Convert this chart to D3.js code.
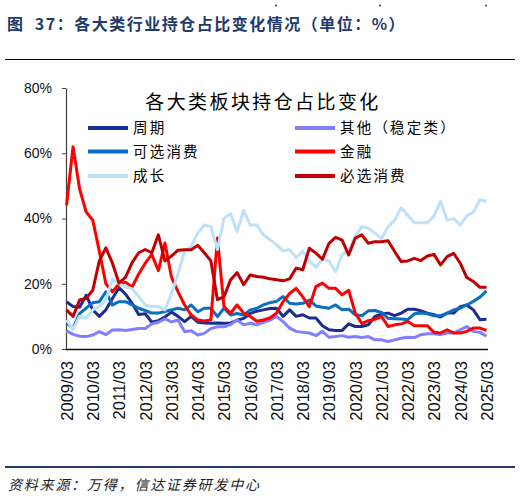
<!DOCTYPE html>
<html>
<head>
<meta charset="utf-8">
<script src="https://cdn.jsdelivr.net/npm/d3@7"></script>
<style>
  html, body { margin: 0; padding: 0; background: #fff; }
  svg { display: block; }
</style>
</head>
<body>
<svg id="chart" width="520" height="498"></svg>
<script>
// ---------------- data ----------------
const categories = [
  "2009/03","2009/06","2009/09","2009/12","2010/03","2010/06","2010/09","2010/12",
  "2011/03","2011/06","2011/09","2011/12","2012/03","2012/06","2012/09","2012/12",
  "2013/03","2013/06","2013/09","2013/12","2014/03","2014/06","2014/09","2014/12",
  "2015/03","2015/06","2015/09","2015/12","2016/03","2016/06","2016/09","2016/12",
  "2017/03","2017/06","2017/09","2017/12","2018/03","2018/06","2018/09","2018/12",
  "2019/03","2019/06","2019/09","2019/12","2020/03","2020/06","2020/09","2020/12",
  "2021/03","2021/06","2021/09","2021/12","2022/03","2022/06","2022/09","2022/12",
  "2023/03","2023/06","2023/09","2023/12","2024/03","2024/06","2024/09","2024/12",
  "2025/03"
];
const tickLabels = ["2009/03","2010/03","2011/03","2012/03","2013/03","2014/03","2015/03",
  "2016/03","2017/03","2018/03","2019/03","2020/03","2021/03","2022/03","2023/03","2024/03","2025/03"];
const yTicks = [0, 20, 40, 60, 80];

// 周期
const cyclical = [14.5,13,12.8,16.5,12,10,12,15.5,18.8,16.8,14,10.6,10.8,8.2,8.7,9.8,
  11.3,10,8.4,10,8.2,8,7.9,8,7.9,8,8.8,9.4,10.9,11.6,12,12.4,
  12.5,10,12,10,10.5,9.5,9.5,7.1,5.9,5.7,5.7,7.7,6.9,6.9,7.4,10,
  10.7,11,10.2,11,12.2,12.2,11.7,11,10.5,9.8,11,11,13,13.5,12,9,9.1];
// 其他（稳定类）
const stable = [5.6,4.5,3.9,3.8,4.3,5.3,4.4,5.8,5.9,5.7,6,6.3,6.3,7.7,8.2,9.2,
  8.3,8.9,5.3,5.6,4.3,4.8,6.3,6.8,6.8,7.5,8.9,7.4,7.9,7.4,8.2,8.8,
  10,8.4,6.4,5.4,5.1,4.9,4.1,5.4,3.6,3.8,4.1,3.6,3.8,3.5,3.8,2.8,
  2.8,2.3,2.8,3.3,3.6,3.5,4.4,4.7,4.7,4.4,4.9,4.9,5.9,6.9,5.4,5.1,3.9];
// 可选消费
const discretionary = [8,6.3,10.9,12.5,14.2,14.5,17.5,13.5,14.5,14.5,13.5,12.5,11.8,11,11,11.5,
  12,12.5,12,13.5,11.4,12.5,12.5,9.9,12.5,10.4,10.9,10.4,12,12.5,13.5,14.2,
  14.6,16.1,14,13.8,14,15,13.2,12.8,12.5,13.5,12,12.2,10.5,10.2,11.7,11.8,
  11.2,9.4,9.3,9.2,9,10.8,11,10.8,10.2,10.2,11,12,12.5,13.5,14.6,15.9,17.8];
// 金融
const finance = [44,62,49,42,39.5,30,20,17.5,20,20.5,19,23,26.3,29,24,32.5,
  22,17.5,13.5,10.4,8.9,8.6,8.9,34,13,11,13.5,11,10,8.5,8.9,9.5,
  11,14.5,17,18.6,16,13,19.1,20.2,18.6,18.6,16.6,18,11,7.8,8.7,9.1,
  10,6.9,7.4,7.7,8.4,7.1,7.1,7.1,5.1,4.9,5.9,4.9,4.9,5.4,6.4,6.4,5.7];
// 成长
const growth = [8.9,6,10,9.5,12,13,15,21.5,20,19,18.5,16,13.5,13,13,12,
  17,23,30,31.5,35.5,38,37.5,30.5,40,41.5,36,42.5,38,38,35,33.5,
  32,30,30.5,28,30,27,25,27.5,27,23.7,28.8,30.4,34.5,37.5,37,35.5,
  33.8,37.5,39.5,43.3,41,38.7,38.7,38.7,40.8,45.3,39.5,40,38,40.8,42,45.8,45.2];
// 必选消费
const staples = [12,10,15,15.5,18,27,31,26.3,20.2,22,26.5,29.5,30.5,29.5,35,27,
  28.5,30.3,30.4,30.4,31.8,29.5,27,15.1,16,21.2,23.4,19.7,22.7,22.2,22,21.5,
  21.2,20.9,21.5,24.8,24.3,30.9,29.4,27.5,32.4,34.2,33.4,28.8,34,35,32.4,32.9,
  32.9,33.2,29.9,26.8,27,27.8,27.1,28.5,29,25.8,28.3,29.3,26.3,21.9,20.7,18.9,18.9];

const seriesNames = ["周期","其他（稳定类）","可选消费","金融","成长","必选消费"];
const seriesValues = [cyclical, stable, discretionary, finance, growth, staples];
const seriesColors = ["#1b2d8f","#8080ff","#0a6fc0","#ff0000","#bfe0fb","#c00000"];

// ---------------- drawing ----------------
const svg = d3.select("#chart");
const cjk = "'Noto Sans CJK SC','Noto Sans',sans-serif";
const latin = "'Liberation Sans',Arial,sans-serif";

// report header
svg.append("text")
  .attr("x", 7).attr("y", 30)
  .attr("font-family", cjk).attr("font-weight", 700).attr("font-size", 16)
  .attr("letter-spacing", 1.5)
  .attr("fill", "#1f3a6b")
  .attr("xml:space", "preserve")
  .text("图  37：各大类行业持仓占比变化情况（单位：%）");
svg.append("line").attr("x1", 5).attr("x2", 515).attr("y1", 59.5).attr("y2", 59.5)
  .attr("stroke", "#000").attr("stroke-width", 1);
[276, 380, 486].forEach(px => svg.append("circle").attr("cx", px).attr("cy", 5.5).attr("r", 0.9).attr("fill", "#333"));

// scales
const x = d3.scalePoint().domain(categories).range([66.5, 486.5]);
const y = d3.scaleLinear().domain([0, 80]).range([349, 88]);

// y axis
const yAxis = svg.append("g").attr("transform", "translate(66,0)")
  .call(d3.axisLeft(y).tickValues(yTicks).tickSize(4).tickSizeOuter(0).tickPadding(10)
    .tickFormat(d => d + "%"));
yAxis.select(".domain").attr("stroke", "#404040").attr("stroke-width", 1.2);
yAxis.selectAll(".tick line").attr("stroke", "#404040");
yAxis.selectAll("text").attr("font-family", latin).attr("font-size", 14).attr("fill", "#111");

// x axis
const xAxis = svg.append("g").attr("transform", "translate(0,349)")
  .call(d3.axisBottom(x).tickValues(tickLabels).tickSize(0).tickSizeOuter(0));
xAxis.select(".domain").attr("stroke", "#111").attr("stroke-width", 1.3)
  .attr("d", "M65.5,0.5H488");
xAxis.selectAll("text")
  .attr("font-family", latin).attr("font-size", 16.5).attr("fill", "#111")
  .attr("text-anchor", "end")
  .attr("transform", "rotate(-90)")
  .attr("x", -12).attr("y", 0).attr("dy", "0.36em");

// lines
const line = d3.line().x((d, i) => x(categories[i])).y(d => y(d));
seriesValues.forEach((vals, k) => {
  svg.append("path").datum(vals)
    .attr("d", line)
    .attr("fill", "none")
    .attr("stroke", seriesColors[k])
    .attr("stroke-width", 3)
    .attr("stroke-linejoin", "round");
});

// chart title
svg.append("text")
  .attr("x", 263).attr("y", 109)
  .attr("text-anchor", "middle")
  .attr("font-family", cjk).attr("font-size", 19).attr("letter-spacing", 2.4)
  .attr("fill", "#000")
  .text("各大类板块持仓占比变化");

// legend
const legendPos = [
  {x: 88, y: 128}, {x: 295, y: 128},
  {x: 88, y: 151.5}, {x: 295, y: 151.5},
  {x: 88, y: 176}, {x: 295, y: 176}
];
seriesNames.forEach((name, k) => {
  const p = legendPos[k];
  svg.append("line").attr("x1", p.x).attr("x2", p.x + 40).attr("y1", p.y).attr("y2", p.y)
    .attr("stroke", seriesColors[k]).attr("stroke-width", 4);
  svg.append("text").attr("x", p.x + 45).attr("y", p.y).attr("dy", "0.36em")
    .attr("font-family", cjk).attr("font-size", 14.5).attr("letter-spacing", 2.2)
    .attr("fill", "#000").text(name);
});

// footer
svg.append("line").attr("x1", 5).attr("x2", 515).attr("y1", 467).attr("y2", 467)
  .attr("stroke", "#1f3a6b").attr("stroke-width", 2);
svg.append("text")
  .attr("x", 8).attr("y", 490)
  .attr("font-family", cjk).attr("font-size", 14).attr("font-style", "italic")
  .attr("letter-spacing", 1.8)
  .attr("fill", "#222")
  .text("资料来源：万得，信达证券研发中心");
</script>
</body>
</html>
